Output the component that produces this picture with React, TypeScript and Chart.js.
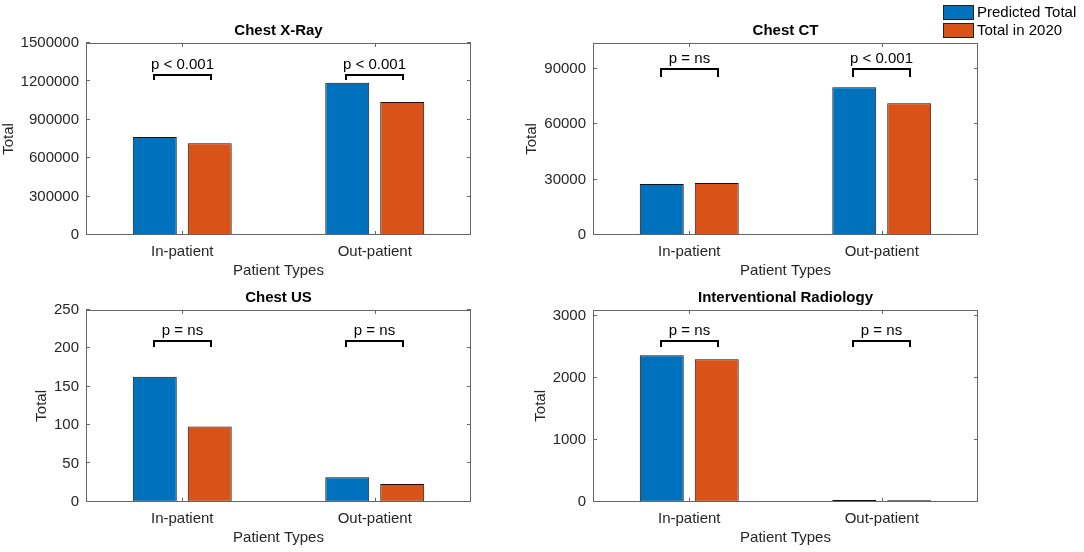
import { useEffect, useRef } from 'react';
import { Chart, registerables } from 'chart.js';

Chart.register(...registerables);

// ---- data ----
const categories = ['In-patient', 'Out-patient'];
const seriesLabels = ['Predicted Total', 'Total in 2020'];

const xrayPredicted = [765000, 1190000];
const xray2020 = [716000, 1039000];
const ctPredicted = [27600, 80000];
const ct2020 = [28100, 71400];
const usPredicted = [163, 32];
const us2020 = [98, 23];
const irPredicted = [2367, 28];
const ir2020 = [2305, 24];

const xrayPValues = ['p < 0.001', 'p < 0.001'];
const ctPValues = ['p = ns', 'p < 0.001'];
const usPValues = ['p = ns', 'p = ns'];
const irPValues = ['p = ns', 'p = ns'];

const xrayTicks = [0, 300000, 600000, 900000, 1200000, 1500000];
const ctTicks = [0, 30000, 60000, 90000];
const usTicks = [0, 50, 100, 150, 200, 250];
const irTicks = [0, 1000, 2000, 3000];

const BLUE = '#0072BD';
const ORANGE = '#D95319';
const AXIS = '#666666';
const TEXT = '#262626';
const FONT = "'Liberation Sans', Arial, Helvetica, sans-serif";

Chart.defaults.font.family = FONT;

interface Panel {
  title: string;
  predicted: number[];
  actual: number[];
  pValues: string[];
  bracketAt: number;
  tail: number;
  yMax: number;
  yTicks: number[];
  area: { left: number; right: number; top: number; bottom: number };
  yTitleX: number;
  titleY: number;
  legend?: boolean;
}

const panels: Panel[] = [
  {
    title: 'Chest X-Ray', predicted: xrayPredicted, actual: xray2020, pValues: xrayPValues,
    bracketAt: 1250000, tail: 5, yMax: 1500000, yTicks: xrayTicks,
    area: { left: 86, right: 471, top: 43, bottom: 235 }, yTitleX: 9, titleY: 31,
  },
  {
    title: 'Chest CT', predicted: ctPredicted, actual: ct2020, pValues: ctPValues,
    bracketAt: 90000, tail: 8, yMax: 104000, yTicks: ctTicks,
    area: { left: 593, right: 978, top: 43, bottom: 235 }, yTitleX: 532, titleY: 31, legend: true,
  },
  {
    title: 'Chest US', predicted: usPredicted, actual: us2020, pValues: usPValues,
    bracketAt: 210, tail: 6, yMax: 250, yTicks: usTicks,
    area: { left: 86, right: 471, top: 309.5, bottom: 501.7 }, yTitleX: 42, titleY: 298,
  },
  {
    title: 'Interventional Radiology', predicted: irPredicted, actual: ir2020, pValues: irPValues,
    bracketAt: 2600, tail: 6, yMax: 3100, yTicks: irTicks,
    area: { left: 593, right: 978, top: 309.5, bottom: 501.7 }, yTitleX: 541, titleY: 298,
  },
];

const W = 1084;
const H = 552;
const X_AXIS_H = 45;

// box around the axes with inward ticks, like the original
const framePlugin = {
  id: 'frame',
  afterDraw(chart: any) {
    const { ctx, chartArea: a, scales } = chart;
    ctx.save();
    ctx.strokeStyle = AXIS;
    ctx.lineWidth = 1;
    ctx.strokeRect(Math.round(a.left) + 0.5, Math.round(a.top) + 0.5,
      Math.round(a.right - a.left) - 1, Math.round(a.bottom - a.top) - 1);
    ctx.beginPath();
    scales.y.ticks.forEach((t: any) => {
      const y = Math.round(scales.y.getPixelForValue(t.value)) - 0.5;
      ctx.moveTo(a.left, y);
      ctx.lineTo(a.left + 4, y);
      ctx.moveTo(a.right, y);
      ctx.lineTo(a.right - 4, y);
    });
    scales.x.ticks.forEach((_t: any, i: number) => {
      const x = Math.round(scales.x.getPixelForTick(i)) + 0.5;
      ctx.moveTo(x, a.bottom);
      ctx.lineTo(x, a.bottom - 4);
      ctx.moveTo(x, a.top);
      ctx.lineTo(x, a.top + 4);
    });
    ctx.stroke();
    ctx.restore();
  },
};

// significance brackets spanning the two bars of each group
const bracketPlugin = {
  id: 'brackets',
  afterDatasetsDraw(chart: any, _args: any, opts: any) {
    const { ctx, scales } = chart;
    const m0 = chart.getDatasetMeta(0).data;
    const m1 = chart.getDatasetMeta(1).data;
    const y = Math.round(scales.y.getPixelForValue(opts.at));
    ctx.save();
    ctx.strokeStyle = '#000';
    ctx.lineWidth = 2;
    ctx.fillStyle = '#000';
    ctx.font = `15px ${FONT}`;
    ctx.textAlign = 'center';
    ctx.textBaseline = 'alphabetic';
    opts.labels.forEach((label: string, i: number) => {
      const x1 = Math.round(m0[i].x) - 1;
      const x2 = Math.round(m1[i].x) + 1;
      ctx.beginPath();
      ctx.moveTo(x1, y + opts.tail);
      ctx.lineTo(x1, y);
      ctx.lineTo(x2, y);
      ctx.lineTo(x2, y + opts.tail);
      ctx.stroke();
      ctx.fillText(label, (x1 + x2) / 2, y - 6);
    });
    ctx.restore();
  },
};

// legend placed in the upper right corner of the figure
const cornerLegend = {
  id: 'cornerLegend',
  afterDraw(chart: any) {
    const { ctx } = chart;
    ctx.save();
    ctx.font = `15px ${FONT}`;
    ctx.textBaseline = 'middle';
    ctx.textAlign = 'left';
    chart.data.datasets.forEach((ds: any, i: number) => {
      const cy = 12 + i * 18;
      ctx.fillStyle = ds.backgroundColor;
      ctx.fillRect(943, cy - 7, 30, 14);
      ctx.strokeStyle = '#222';
      ctx.lineWidth = 1;
      ctx.strokeRect(943.5, cy - 6.5, 30, 14);
      ctx.fillStyle = '#000';
      ctx.fillText(ds.label, 977, cy + 0.5);
    });
    ctx.restore();
  },
};

function PanelChart({ panel }: { panel: Panel }) {
  const canvasRef = useRef<HTMLCanvasElement>(null);

  useEffect(() => {
    if (!canvasRef.current) return;
    const a = panel.area;
    const padLeft = panel.yTitleX - 9;
    const yWidth = a.left - padLeft;

    const chart = new Chart(canvasRef.current, {
      type: 'bar',
      data: {
        labels: categories,
        datasets: [
          {
            label: seriesLabels[0],
            data: panel.predicted,
            backgroundColor: BLUE,
            borderColor: '#111',
            borderWidth: 1,
            borderSkipped: false,
          },
          {
            label: seriesLabels[1],
            data: panel.actual,
            backgroundColor: ORANGE,
            borderColor: '#111',
            borderWidth: 1,
            borderSkipped: false,
          },
        ],
      },
      options: {
        responsive: false,
        animation: false,
        events: [],
        datasets: { bar: { categoryPercentage: 0.571, barPercentage: 0.8 } },
        layout: {
          padding: {
            left: padLeft,
            right: W - a.right,
            top: panel.titleY - 9,
            bottom: H - a.bottom - X_AXIS_H,
          },
        },
        plugins: {
          legend: { display: false },
          tooltip: { enabled: false },
          title: {
            display: true,
            text: panel.title,
            fullSize: false,
            color: '#000',
            font: { size: 15, weight: 'bold' },
            padding: { top: 0, bottom: 3 },
          },
          brackets: { labels: panel.pValues, at: panel.bracketAt, tail: panel.tail },
        } as any,
        scales: {
          x: {
            grid: { display: false, drawTicks: false },
            border: { display: false },
            ticks: { color: TEXT, font: { size: 15 }, padding: 8 },
            title: { display: true, text: 'Patient Types', color: TEXT, font: { size: 15 }, padding: 0 },
            afterFit: (scale: any) => { scale.height = X_AXIS_H; },
          },
          y: {
            min: 0,
            max: panel.yMax,
            grid: { display: false, drawTicks: false },
            border: { display: false },
            ticks: {
              color: TEXT,
              font: { size: 15 },
              padding: 7,
              callback: (v: any) => String(v),
            },
            afterBuildTicks: (scale: any) => {
              scale.ticks = panel.yTicks.map((v) => ({ value: v }));
            },
            title: { display: true, text: 'Total', color: TEXT, font: { size: 15 }, padding: 0 },
            afterFit: (scale: any) => { scale.width = yWidth; },
          },
        },
      },
      plugins: [framePlugin, bracketPlugin, ...(panel.legend ? [cornerLegend] : [])],
    });

    return () => chart.destroy();
  }, [panel]);

  return (
    <canvas
      ref={canvasRef}
      width={W}
      height={H}
      style={{ position: 'absolute', left: 0, top: 0, width: W, height: H }}
    />
  );
}

export default function App() {
  return (
    <div style={{ position: 'absolute', left: 0, top: 0, width: W, height: H, background: '#fff' }}>
      {panels.map((p) => (
        <PanelChart key={p.title} panel={p} />
      ))}
    </div>
  );
}
